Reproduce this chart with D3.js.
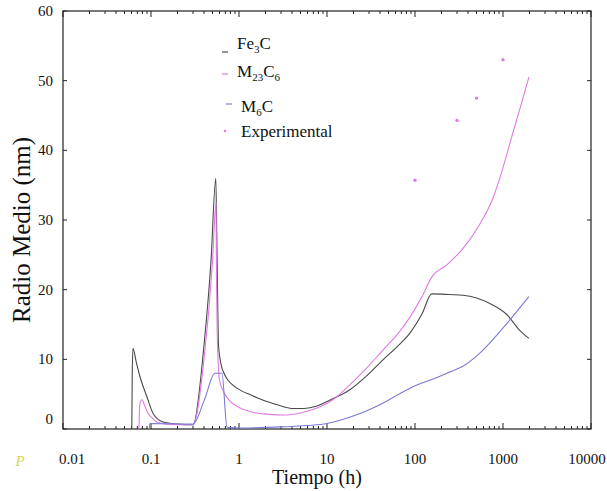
<!DOCTYPE html>
<html><head><meta charset="utf-8">
<script src="https://cdn.jsdelivr.net/npm/d3@7"></script>
<style>
body{margin:0;background:#fff;}
text{font-family:'Liberation Serif','Times New Roman','DejaVu Serif',serif !important;}
</style></head>
<body><svg id="c" width="607" height="491"></svg>
<script>
// ---- data ----
const fe3cT = [0.0605,0.0612,0.0624,0.068,0.075,0.090,0.105,0.137,0.2,0.3,0.4,0.48,0.545,0.56,0.57,0.585,0.62,0.7,0.85,1.1,1.33,1.6,2.25,3.0,4.1,5.5,7.7,11,18,28,43,65,88,120,155,250,351,500,711,1110,1540,1970];
const fe3cV = [0,8,11.6,9.6,7.5,4.6,2.3,1.0,0.7,0.6,12,24,36,27,20,12,9.5,7.6,6.3,5.4,4.95,4.5,3.8,3.3,2.95,2.95,3.3,4.2,5.6,7.6,9.9,12.0,13.8,16.5,19.4,19.3,19.2,18.8,18.0,16.4,14.2,13.0];
const m23T = [0.073,0.0745,0.079,0.085,0.092,0.105,0.117,0.15,0.3,0.4,0.5,0.548,0.555,0.565,0.6,0.66,0.79,1.0,1.33,2.2,3.2,5,7.7,12,18,28,43,65,88,120,155,232,350,545,750,930,1260,1600,1970];
const m23V = [0,3.5,4.2,3.3,2.3,1.5,1.0,0.7,0.6,10,24,32.5,22,14,7,5.5,4.0,3.1,2.5,2.1,2.0,2.3,3.0,4.3,6.3,8.7,11.3,13.8,16.1,19,21.8,23.6,25.9,29.4,32.8,36.2,42,46.5,50.5];
const m6T = [0.096,0.097,0.3,0.4,0.533,0.64,0.73,0.8,1,3,6,10,18,28,43,70,105,155,250,350,545,1000,1970];
const m6V = [0,0.8,0.7,4.0,8.0,8.0,0.3,0.2,0.15,0.3,0.5,0.8,1.7,2.6,3.7,5.2,6.3,7.1,8.2,9.0,10.9,14.5,19.0];
const expT = [100,300,500,1000];
const expV = [35.7,44.3,47.5,53];
const xTicks = [0.01,0.1,1,10,100,1000,10000];
const xTickLabels = ["0.01","0.1","1","10","100","1000","10000"];
const yTicks = [0,10,20,30,40,50,60];
const legendNames = [["Fe","3","C",""],["M","23","C","6"],["M","6","C",""],["Experimental","","",""]];
const colors = ["#4a4a4a","#e07ae4","#7a7ad8"];

// ---- layout ----
const svg = d3.select("#c");
const L=63,R=591,T=11,B=429;
const x = d3.scaleLog().domain([0.01,10000]).range([L,R]);
const y = d3.scaleLinear().domain([0,60]).range([B,T]);

svg.append("rect").attr("x",L).attr("y",T).attr("width",R-L).attr("height",B-T)
  .attr("fill","none").attr("stroke","#222").attr("stroke-width",1.2);

const minor = [];
for(let e=-2;e<4;e++){for(let k=1;k<10;k++){minor.push(k*Math.pow(10,e));}}
minor.push(10000);
const gx = svg.append("g");
minor.forEach(v=>{
  const major = xTicks.includes(v);
  const len = major?6:3;
  gx.append("line").attr("x1",x(v)).attr("x2",x(v)).attr("y1",B).attr("y2",B-len).attr("stroke","#222");
  gx.append("line").attr("x1",x(v)).attr("x2",x(v)).attr("y1",T).attr("y2",T+len).attr("stroke","#222");
});
xTicks.forEach((v,i)=>{
  svg.append("text").attr("x",x(v)+ (i===0?9:(i===6?-4:0))).attr("y",464).attr("text-anchor","middle")
    .attr("font-size",15).attr("fill","#111").text(xTickLabels[i]);
});
yTicks.forEach(v=>{
  svg.append("line").attr("x1",L).attr("x2",L+4).attr("y1",y(v)).attr("y2",y(v)).attr("stroke","#222");
  svg.append("line").attr("x1",R).attr("x2",R-4).attr("y1",y(v)).attr("y2",y(v)).attr("stroke","#222");
  svg.append("text").attr("x",53).attr("y",v===0?424:y(v)+5).attr("text-anchor","end")
    .attr("font-size",15).attr("fill","#111").text(v);
});

svg.append("text").attr("x",317).attr("y",484).attr("text-anchor","middle").attr("font-size",20).attr("fill","#111").text("Tiempo (h)");
svg.append("text").attr("transform","translate(30,230) rotate(-90)").attr("text-anchor","middle").attr("font-size",25).attr("fill","#111").text("Radio Medio (nm)");
svg.append("text").attr("x",20).attr("y",466).attr("text-anchor","middle").attr("font-size",15).attr("font-style","italic").attr("fill","#d9cf55").text("P");

const line = d3.line().x(d=>x(d[0])).y(d=>y(d[1])).curve(d3.curveMonotoneX);
const series = [[fe3cT,fe3cV],[m23T,m23V],[m6T,m6V]];
series.forEach((s,i)=>{
  const pts = s[0].map((t,j)=>[t,s[1][j]]);
  svg.append("path").datum(pts).attr("d",line).attr("fill","none").attr("stroke",colors[i]).attr("stroke-width",1.1);
});
svg.selectAll("circle.exp").data(expT.map((t,j)=>[t,expV[j]])).enter().append("circle")
  .attr("cx",d=>x(d[0])).attr("cy",d=>y(d[1])).attr("r",1.7).attr("fill","#e07ae4");

const legY = [49,77,112,137];
const markY = [52,74,104,131];
legendNames.forEach((n,i)=>{
  const ly = legY[i];
  if(i<3){
    svg.append("line").attr("x1",i===2?226:222).attr("x2",i===2?232:228).attr("y1",markY[i]).attr("y2",markY[i]).attr("stroke",colors[i]).attr("stroke-width",1.2);
  } else {
    svg.append("circle").attr("cx",225).attr("cy",markY[i]).attr("r",1.3).attr("fill","#e07ae4");
  }
  const t = svg.append("text").attr("x",i>=2?241:237).attr("y",ly).attr("font-size",17).attr("fill","#111");
  t.append("tspan").text(n[0]);
  if(n[1]) t.append("tspan").attr("font-size",11).attr("dy",4).text(n[1]);
  if(n[2]) t.append("tspan").attr("dy",-4).text(n[2]);
  if(n[3]) t.append("tspan").attr("font-size",11).attr("dy",4).text(n[3]);
});
</script></body></html>
